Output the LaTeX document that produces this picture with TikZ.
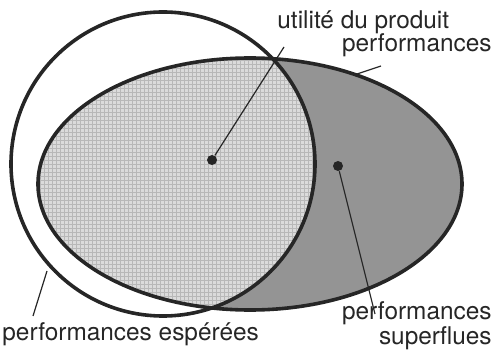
\documentclass[tikz,border=0pt]{standalone}
\usepackage{fontspec}
\setmainfont{TeX Gyre Heros}
\usetikzlibrary{positioning}

\begin{document}
\begin{tikzpicture}[
    x=0.5pt, y=-0.5pt,
    outline/.style={
        draw=black!85,
        line width=1.8pt
    },
    txt/.style={
        font=\fontsize{12.2}{11.5}\selectfont,
        inner sep=0pt,
        text=black!85
    },
    dot/.style={circle, fill=black!85, inner sep=0pt, minimum size=5pt},
    leader/.style={draw=black!85, line width=0.6pt}
]

\useasboundingbox (0,0) rectangle (494,353);

% performances (ellipse) and attentes (circle)
\fill[black!42] (250,184) ellipse [x radius=212, y radius=126];
\begin{scope}
    \clip (163,164) circle [radius=152];
    \clip (250,184) ellipse [x radius=212, y radius=126];
    \fill[black!14] (0,0) rectangle (494,353);
    \draw[black!28, line width=0.3pt, step=2pt] (0,0) grid (494,353);
\end{scope}
\draw[outline] (250,184) ellipse [x radius=212, y radius=126];
\draw[outline] (163,164) circle [radius=152];

\node[dot] (utiliteDot) at (212,160) {};
\node[dot] (superfluDot) at (338,166) {};

\node[txt, anchor=base west] (utilite) at (277,29) {utilité du produit};
\node[txt, anchor=base east] (perfs) at (492,52) {performances};
\node[txt, anchor=base west] (esperees) at (2,341) {performances espérées};
\node[txt, anchor=north east, align=right] (superflues) at (492,301) {performances\\superflues};

\coordinate (utiliteEnd) at (284,47);
\coordinate (perfsStart) at (381,66);
\coordinate (perfsEnd) at (357,74);
\coordinate (superfluEnd) at (375,314);
\coordinate (espereStart) at (33,316);
\coordinate (espereEnd) at (47,271);

\draw[leader] (utiliteDot) -- (utiliteEnd);
\draw[leader] (perfsStart) -- (perfsEnd);
\draw[leader] (superfluDot) -- (superfluEnd);
\draw[leader] (espereStart) -- (espereEnd);

\end{tikzpicture}
\end{document}
